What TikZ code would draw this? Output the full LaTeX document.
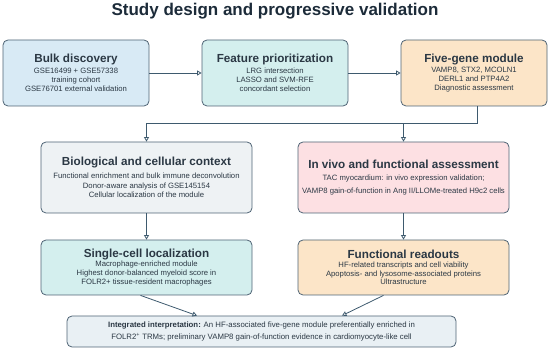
\documentclass[tikz,border=0pt]{standalone}
\usepackage{fontspec}
\setmainfont{Liberation Sans}
\usetikzlibrary{arrows.meta,calc}
\definecolor{titlecol}{HTML}{1C2B39}
\definecolor{boxline}{HTML}{4F6475}
\definecolor{conn}{HTML}{3E5A6E}
\definecolor{fblue}{HTML}{D8EAF5}
\definecolor{fteal}{HTML}{D4EFEE}
\definecolor{fpeach}{HTML}{FCE5C8}
\definecolor{fgray}{HTML}{EEF2F4}
\definecolor{fpink}{HTML}{FDE0E3}
\definecolor{fbottom}{HTML}{E9F0F4}
\newcommand\bxtitle[1]{{\fontsize{11.7}{12}\selectfont\bfseries #1}}
\tikzset{
  stagebox/.style={draw=boxline, line width=0.8pt, rounded corners=5pt, align=center,
    inner sep=0pt, text=titlecol!85!gray, font=\fontsize{7.7}{8.8}\selectfont},
  arr/.style={draw=conn, line width=0.8pt, -{Triangle[open,length=4.5pt,width=5pt]}}
}
\begin{document}
\begin{tikzpicture}[x=1pt,y=-1pt]
\useasboundingbox (0,0) rectangle (550,350);
\node[text=titlecol, font=\fontsize{17}{20}\selectfont\bfseries] (title) at (275,11) {Study design and progressive validation};

\node[stagebox, fill=fblue, minimum width=146pt, minimum height=66pt] (b1) at (76,73)
  {\bxtitle{Bulk discovery}\\[2pt] GSE16499 + GSE57338\\ training cohort\\ GSE76701 external validation};
\node[stagebox, fill=fteal, minimum width=146pt, minimum height=66pt] (b2) at (275,73)
  {\bxtitle{Feature prioritization}\\[2pt] LRG intersection\\ LASSO and SVM-RFE\\ concordant selection};
\node[stagebox, fill=fpeach, minimum width=146pt, minimum height=66pt] (b3) at (474,73)
  {\bxtitle{Five-gene module}\\[1pt] VAMP8, STX2, MCOLN1\\ DERL1 and PTP4A2\\ Diagnostic assessment};

\node[stagebox, fill=fgray, minimum width=211pt, minimum height=71pt] (b4) at (146.5,177.5)
  {\bxtitle{Biological and cellular context}\\[4pt] Functional enrichment and bulk immune deconvolution\\[0.5pt] Donor-aware analysis of GSE145154\\[0.5pt] Cellular localization of the module};
\node[stagebox, fill=fpink, minimum width=211pt, minimum height=71pt] (b5) at (403.5,177.5)
  {\bxtitle{In vivo and functional assessment}\\[4pt] TAC myocardium: in vivo expression validation;\\[4pt] VAMP8 gain-of-function in Ang II/LLOMe-treated H9c2 cells};

\node[stagebox, fill=fteal, minimum width=211pt, minimum height=55pt] (b6) at (146.5,267.5)
  {\bxtitle{Single-cell localization}\\[0pt] Macrophage-enriched module\\ Highest donor-balanced myeloid score in\\ FOLR2+ tissue-resident macrophages};
\node[stagebox, fill=fpeach, minimum width=211pt, minimum height=55pt] (b7) at (403.5,267.5)
  {\bxtitle{Functional readouts}\\[0pt] HF-related transcripts and cell viability\\ Apoptosis- and lysosome-associated proteins\\ Ultrastructure};

\node[stagebox, fill=fbottom, minimum width=389pt, minimum height=31pt, font=\fontsize{7.8}{9}\selectfont] (b8) at (261.5,331.5)
  {\textbf{Integrated interpretation:} An HF-associated five-gene module preferentially enriched in\\[3pt] FOLR2\textsuperscript{+} TRMs; preliminary VAMP8 gain-of-function evidence in cardiomyocyte-like cell};

\draw[arr] (b1.east) -- (b2.west);
\draw[arr] (b2.east) -- (b3.west);
\coordinate (j) at ($(b3.south)+(3,16.7)$);
\draw[arr] ($(b3.south)+(3,0)$) -- (j) -| (b4.north);
\draw[arr] (j -| b5.north) -- (b5.north);
\draw[arr] (b4.south) -- (b6.north);
\draw[arr] (b5.south) -- (b7.north);
\coordinate (e1) at ($(b8.north)+(-64.5,0)$);
\coordinate (e2) at ($(b8.north)+(80.5,0)$);
\draw[arr] ($(b6.south)+(-6,0)$) -- (e1);
\draw[arr] ($(b7.south)+(-20,0)$) -- (e2);
\end{tikzpicture}
\end{document}
